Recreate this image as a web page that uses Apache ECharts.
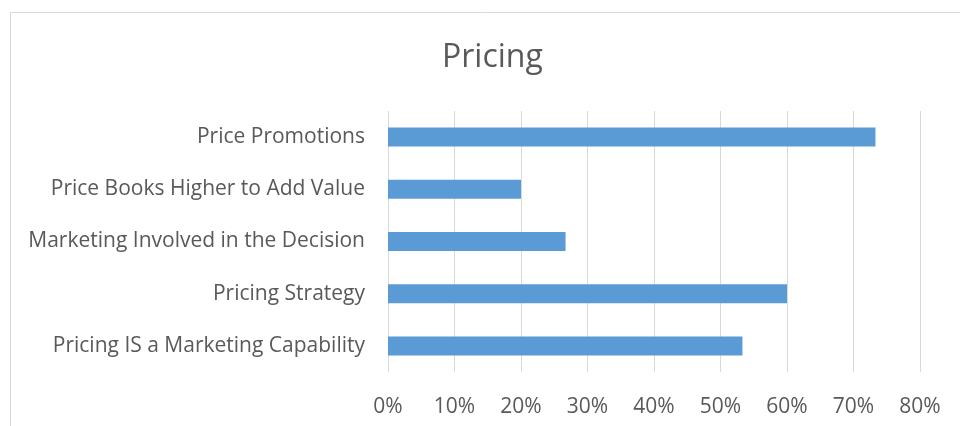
<!DOCTYPE html>
<html>
<head>
<meta charset="utf-8">
<script src="https://cdn.jsdelivr.net/npm/echarts@6/dist/echarts.min.js"></script>
<style>
  html, body { margin: 0; padding: 0; background: #fff; }
  #chart { width: 960px; height: 426px; }
</style>
</head>
<body>
<div id="chart"></div>
<script>
  // categories bottom -> top (ECharts draws category y axis from bottom)
  var categories = [
    'Pricing IS a Marketing Capability',
    'Pricing Strategy',
    'Marketing Involved in the Decision',
    'Price Books Higher to Add Value',
    'Price Promotions'
  ]
  var values = [0.533, 0.60, 0.267, 0.20, 0.733]
  var tickStep = 0.1
  var axisMax = 0.8

  var textColor = '#595959'
  var fontFam = '"Open Sans", "Noto Sans", sans-serif'

  var myChart = echarts.init(document.getElementById('chart'), null, {renderer: 'canvas'})
  var option = {
    animation: false,
    backgroundColor: '#fff',
    graphic: [{
      type: 'rect',
      shape: {x: 10.5, y: 12.5, width: 1000, height: 600},
      style: {fill: 'none', stroke: '#d9d9d9', lineWidth: 1},
      silent: true
    }],
    title: {
      text: 'Pricing',
      left: 437,
      top: 37,
      textStyle: {
        fontFamily: fontFam,
        fontSize: 32,
        fontWeight: 'normal',
        color: textColor
      }
    },
    grid: {
      left: 388,
      right: 40,
      top: 111,
      bottom: 54,
      containLabel: false
    },
    xAxis: {
      type: 'value',
      min: 0,
      max: axisMax,
      interval: tickStep,
      axisLine: {show: false},
      axisTick: {show: false},
      splitLine: {lineStyle: {color: '#d9d9d9', width: 1}},
      axisLabel: {
        margin: 25,
        color: textColor,
        fontFamily: fontFam,
        fontSize: 21,
        formatter: function (v) {
          return Math.round(v * 100) + '%'
        }
      }
    },
    yAxis: {
      type: 'category',
      data: categories,
      axisLine: {show: false},
      axisTick: {show: false},
      axisLabel: {
        margin: 23,
        color: textColor,
        fontFamily: fontFam,
        fontSize: 21
      }
    },
    series: [{
      type: 'bar',
      data: values,
      barWidth: 19,
      itemStyle: {color: '#5b9bd5'}
    }]
  }
  myChart.setOption(option)
</script>
</body>
</html>
